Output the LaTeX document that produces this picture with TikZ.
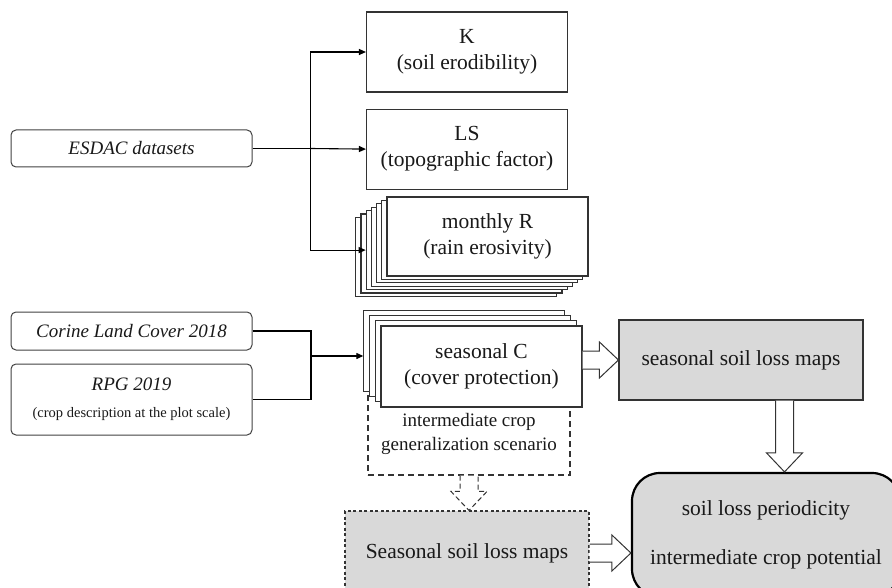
\documentclass[tikz,border=0pt]{standalone}
\usepackage{fontspec}
\setmainfont{Liberation Serif}
\usetikzlibrary{arrows.meta, positioning, calc, backgrounds}

% hollow block arrows between two points
\newcommand{\fatright}[3][]{%
  \path[fat, #1] let \p1 = #2, \p2 = #3 in
    (\x1, \y1+9pt) -- (\x2-19pt, \y1+9pt) -- (\x2-19pt, \y1+18pt)
    -- (\x2, \y1) -- (\x2-19pt, \y1-18pt) -- (\x2-19pt, \y1-9pt) -- (\x1, \y1-9pt);}
\newcommand{\fatdown}[3][]{%
  \path[fat, #1] let \p1 = #2, \p2 = #3 in
    (\x1-9pt, \y1) -- (\x1-9pt, \y2+19pt) -- (\x1-18pt, \y2+19pt)
    -- (\x1, \y2) -- (\x1+18pt, \y2+19pt) -- (\x1+9pt, \y2+19pt) -- (\x1+9pt, \y1);}

\begin{document}
\begin{tikzpicture}[x=1pt, y=-1pt,
    node distance=16pt and 20pt,
    factor/.style={rectangle, draw=black!80, fill=white, line width=1.1pt,
                   minimum width=201pt, minimum height=80pt, align=center,
                   text=black!90, font=\fontsize{21.5}{26}\selectfont},
    dataset/.style={rectangle, rounded corners=5pt, draw=black!75,
                    line width=1pt, minimum width=241pt, align=center,
                    text=black!90, font=\fontsize{19}{22}\selectfont\itshape},
    lossmap/.style={rectangle, draw=black!80, fill=black!15, line width=1.1pt,
                    minimum width=244pt, minimum height=80pt,
                    text=black!90, font=\fontsize{21.5}{24.5}\selectfont},
    scenario/.style={rectangle, draw=black!80, line width=1.1pt,
                     dash pattern=on 6pt off 4pt, minimum width=202pt,
                     minimum height=83pt, align=center, text=black!90,
                     font=\fontsize{19}{24}\selectfont},
    synth/.style={rectangle, rounded corners=28pt, draw=black, fill=black!15,
                  line width=2.2pt, minimum width=268pt, minimum height=124pt,
                  align=center, text=black!90,
                  font=\fontsize{21.5}{24.5}\selectfont},
    arr/.style={-{Triangle[length=7pt, width=6pt]}, line width=1.1pt},
    fat/.style={draw=black!80, fill=white, line width=1pt}
  ]
  \clip (0,0) rectangle (892,588);

  % inputs
  \node[dataset, minimum height=37pt] (esdac) at (131.5,148.5) {ESDAC datasets};
  \node[dataset, minimum height=38pt] (clc) at (131.5,331) {Corine Land Cover 2018};
  \node[dataset, minimum height=71pt, below=13pt of clc] (rpg)
    {RPG 2019\\[5pt]{\fontsize{14.5}{17}\selectfont\upshape (crop description at the plot scale)}};

  % RUSLE factors
  \node[factor] (k) at (467,52) {K\\(soil erodibility)};
  \node[factor, below=of k] (ls) {LS\\(topographic factor)};
  \node[factor, minimum height=79pt] (rain) at (487.5,236.5) {monthly R\\(rain erosivity)};
  \node[factor, minimum height=81pt] (sc) at (481.5,366.5) {seasonal C\\(cover protection)};
  \begin{scope}[on background layer]
    \node[scenario] (scen) at (469,433.5) {intermediate crop\\generalization scenario};
    \foreach \i in {6,...,1}
      \node[factor, minimum height=79pt] (rain-\i) at ($(rain)+(-5.2*\i,3.4*\i)$) {};
    \foreach \i in {3,2,1}
      \node[factor, minimum height=81pt] (sc-\i) at ($(sc)+(-5.7*\i,-5.3*\i)$) {};
  \end{scope}

  % results
  \node[lossmap] (maps) at (741,360) {seasonal soil loss maps};
  \node[lossmap, dash pattern=on 3pt off 2.5pt, minimum height=84pt] (low) at (467,553)
    {Seasonal soil loss maps};
  \node[synth] (big) at (766,535) {soil loss periodicity\\[25pt]intermediate crop potential};

  % connectors
  \coordinate (ej) at ($(esdac.east)+(58,0)$);
  \draw[line width=1.1pt] (esdac.east) -- (ej);
  \draw[arr] (ej) |- (k.west);
  \draw[arr] (ej) -- (ls.west);
  \draw[arr] (ej) |- (rain-4.west);

  \coordinate (cj) at (311,356);
  \draw[line width=1.1pt] (clc.east) -| (cj) |- (rpg.east);
  \draw[arr] (cj) -- (sc-3.west |- cj);

  \fatright{(sc.east |- maps.west)}{(maps.west)}
  \coordinate (md) at ($(maps.south)+(43.5,0)$);
  \fatdown{(md)}{(md |- big.north)}
  \fatdown[dash pattern=on 5pt off 3pt]{(scen.south)}{(low.north)}
  \fatright{(low.east)}{(big.west |- low.east)}
\end{tikzpicture}
\end{document}
